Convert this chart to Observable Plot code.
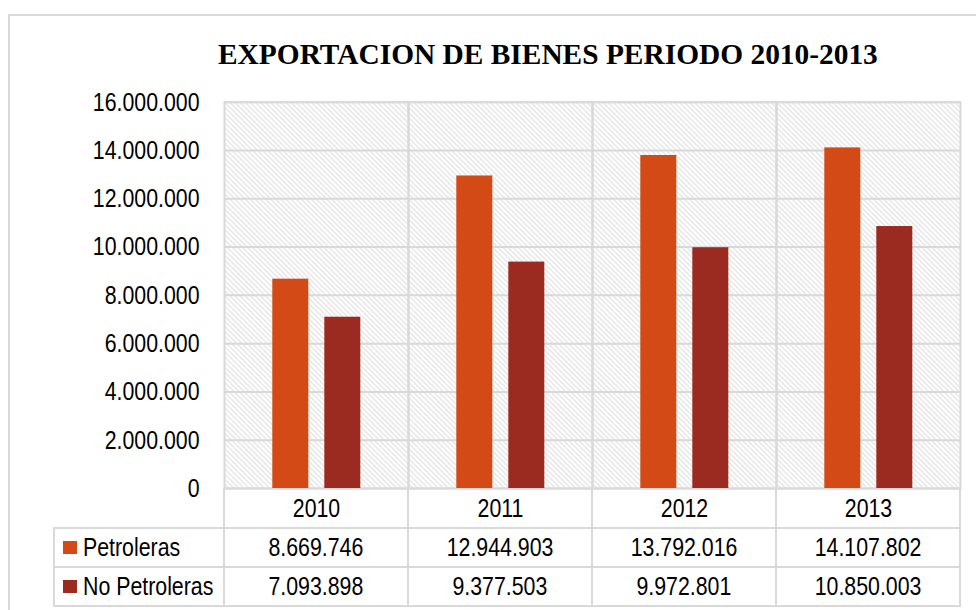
<!DOCTYPE html>
<html><head><meta charset="utf-8">
<script src="https://cdn.jsdelivr.net/npm/d3@7"></script>
<script src="https://cdn.jsdelivr.net/npm/@observablehq/plot@0.6"></script>
<style>
body{margin:0;background:#fff;}
#wrap{position:relative;width:976px;height:610px;overflow:hidden;font-family:"Liberation Sans",Arial,sans-serif;color:#000;}
#border{position:absolute;left:8px;top:14px;width:1200px;height:700px;border-left:2px solid #d9d9d9;border-top:2px solid #d9d9d9;}
#title{position:absolute;left:218px;top:40px;font:bold 29.4px/29px "Liberation Serif","Times New Roman",serif;white-space:nowrap;}
#chart{position:absolute;left:0;top:80px;}
.ln{position:absolute;background:#d9d9d9;}
.cell{position:absolute;height:39px;line-height:39px;font-size:26px;white-space:nowrap;}
.sq{display:inline-block;transform:scaleX(0.82);}
.key{position:absolute;width:13.5px;height:13.5px;}
</style>
</head><body>
<div id="wrap">
  <div id="border"></div>
  <div id="title">EXPORTACION DE BIENES PERIODO 2010-2013</div>
  <div id="chart"></div>
  <div id="tbl"></div>
</div>
<script>
const years = ["2010", "2011", "2012", "2013"];
const seriesNames = ["Petroleras", "No Petroleras"];
const petroleras = [8669746, 12944903, 13792016, 14107802];
const noPetroleras = [7093898, 9377503, 9972801, 10850003];
const yTicks = [0, 2000000, 4000000, 6000000, 8000000, 10000000, 12000000, 14000000, 16000000];
const colors = ["#D34A17", "#9B2B20"];

const data = years.flatMap((yr, i) => [
  {year: yr, series: seriesNames[0], value: petroleras[i]},
  {year: yr, series: seriesNames[1], value: noPetroleras[i]}
]);
const fmt = d3.formatLocale({decimal: ",", thousands: ".", grouping: [3], currency: ["", ""]}).format(",d");

const chart = Plot.plot({
  width: 976, height: 448,
  marginLeft: 222.7, marginRight: 14.3, marginTop: 21.7, marginBottom: 40,
  style: {fontFamily: "'Liberation Sans', Arial, sans-serif", fontSize: "26px", color: "#000", background: "transparent", overflow: "visible"},
  facet: {data, x: "year"},
  fx: {domain: years, padding: 0, label: null, axis: "bottom", tickSize: 0, tickPadding: 10.5},
  x: {domain: seriesNames, paddingInner: 0.316, paddingOuter: 0.915, axis: null},
  y: {domain: [0, 16000000], ticks: yTicks, tickFormat: fmt, tickSize: 0, tickPadding: 25, label: null},
  color: {domain: seriesNames, range: colors},
  marks: [
    Plot.frame({fill: "url(#hatch)", stroke: "none"}),
    Plot.gridY(yTicks, {stroke: "#d9d9d9", strokeOpacity: 1, strokeWidth: 2}),
    Plot.frame({stroke: "#d9d9d9", strokeWidth: 2}),
    Plot.barY(data, {x: "series", y: "value", fill: "series"})
  ]
});
document.getElementById("chart").appendChild(chart);

const svg = chart.tagName.toLowerCase() === "svg" ? chart : chart.querySelector("svg");
const ns = "http://www.w3.org/2000/svg";
const defs = document.createElementNS(ns, "defs");
defs.innerHTML = '<pattern id="hatch" patternUnits="userSpaceOnUse" width="3.6" height="3.6" patternTransform="rotate(-45)"><rect width="3.6" height="3.6" fill="#ffffff"/><line x1="1.8" y1="-1" x2="1.8" y2="5" stroke="#dadada" stroke-width="1"/></pattern>';
svg.insertBefore(defs, svg.firstChild);

// narrow the sans text like Arial Narrow (keep vertical em offsets as they are)
svg.querySelectorAll("text").forEach(t => {
  const xa = t.getAttribute("x");
  let x = 0;
  if (xa !== null && !/em$/.test(xa)) { x = +xa || 0; t.removeAttribute("x"); }
  const tr = t.getAttribute("transform") || "";
  t.setAttribute("transform", `${tr} translate(${x},0) scale(0.82,1)`);
});

// data table below the chart, aligned on the fx scale
const fx = chart.scale("fx");
const bw = fx.bandwidth;
const top0 = 80 + 448 - 40; // plot bottom
const rowH = 39;
const hdrBottom = top0 + 40;
const tbl = document.getElementById("tbl");
const left = 54;
const plotRight = fx.apply(years[years.length - 1]) + bw;
function line(x, y, w, h) {
  const d = document.createElement("div");
  d.className = "ln";
  Object.assign(d.style, {left: x + "px", top: y + "px", width: w + "px", height: h + "px"});
  tbl.appendChild(d);
}
const tableBottom = hdrBottom + rowH * 2;
for (let r = 0; r <= 2; r++) line(left - 1, hdrBottom + r * rowH - 1, plotRight - left + 2, 2);
line(left - 1, hdrBottom - 1, 2, tableBottom - hdrBottom + 1);
years.forEach(yr => line(fx.apply(yr) - 1, top0, 2, tableBottom - top0 + 1));
line(plotRight - 1, top0, 2, tableBottom - top0 + 1);

const rows = [petroleras, noPetroleras];
rows.forEach((vals, r) => {
  const y0 = hdrBottom + r * rowH;
  const k = document.createElement("div");
  k.className = "key";
  Object.assign(k.style, {left: "63.3px", top: (y0 + 12.5) + "px", background: colors[r]});
  tbl.appendChild(k);
  const lab = document.createElement("div");
  lab.className = "cell";
  Object.assign(lab.style, {left: "83.3px", top: y0 + "px"});
  lab.innerHTML = `<span class="sq" style="transform-origin:left center">${seriesNames[r]}</span>`;
  tbl.appendChild(lab);
  vals.forEach((v, i) => {
    const c = document.createElement("div");
    c.className = "cell";
    Object.assign(c.style, {left: fx.apply(years[i]) + "px", width: bw + "px", top: y0 + "px", textAlign: "center"});
    c.innerHTML = `<span class="sq">${fmt(v)}</span>`;
    tbl.appendChild(c);
  });
});
</script>
</body></html>
